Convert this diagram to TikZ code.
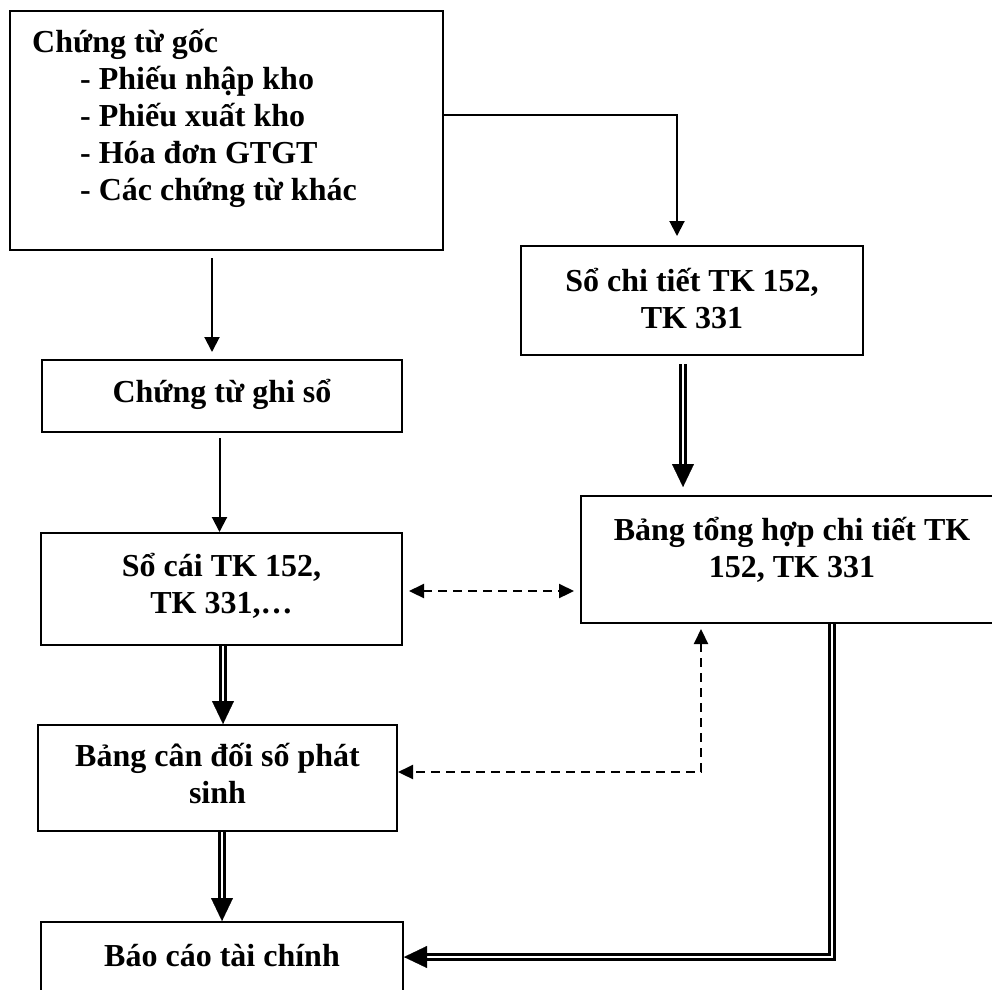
\documentclass[tikz,border=0pt]{standalone}
\usepackage{fontspec}
\setmainfont{Liberation Serif}
\usetikzlibrary{arrows.meta,calc}

\tikzset{
  box/.style={draw, rectangle, line width=2pt, inner sep=0pt},
  txt/.style={font=\bfseries\fontsize{32}{37}\selectfont, inner sep=0pt, align=center},
  arr/.style={line width=2pt, -{Triangle[length=15pt,width=15pt]}},
  dsh/.style={line width=2.2pt, dash pattern=on 9pt off 6pt,
              {Triangle[length=15pt,width=14pt]}-{Triangle[length=15pt,width=14pt]}},
  dbl/.style={double, double distance=2.8pt, line width=2.2pt, line join=miter},
  dblhead/.style={line width=0.2pt, -{Triangle[length=23pt,width=22pt]}}
}

\begin{document}
\begin{tikzpicture}[x=1pt, y=-1pt]
\useasboundingbox (0,0) rectangle (992,989);
\clip (0,0) rectangle (992,989);

% boxes
\node[box, minimum width=433pt, minimum height=239pt] (goc)   at (226.5,130.5) {};
\node[box, minimum width=342pt, minimum height=109pt] (sct)   at (692,300.5) {};
\node[box, minimum width=360pt, minimum height=72pt]  (ctgs)  at (222,396) {};
\node[box, minimum width=361pt, minimum height=112pt] (socai) at (221.5,589) {};
\node[box, minimum width=414pt, minimum height=127pt] (bth)   at (788,559.5) {};
\node[box, minimum width=359pt, minimum height=106pt] (bcd)   at (217.5,778) {};
\node[box, minimum width=362pt, minimum height=70pt]  (bctc)  at (222,957) {};

% box texts
\node[txt, align=left, anchor=north west] (goc-t) at (32,29)
  {Chứng từ gốc\\
   \hspace*{48pt}- Phiếu nhập kho\\
   \hspace*{48pt}- Phiếu xuất kho\\
   \hspace*{48pt}- Hóa đơn GTGT\\
   \hspace*{48pt}- Các chứng từ khác};
\node[txt] (sct-t)   at (692,299)   {Sổ chi tiết TK 152,\\TK 331};
\node[txt, anchor=base] (ctgs-t) at (222,402) {Chứng từ ghi sổ};
\node[txt] (socai-t) at (221.5,586) {Sổ cái TK 152,\\TK 331,…};
\node[txt] (bth-t)   at (792,550)   {Bảng tổng hợp chi tiết TK\\152, TK 331};
\node[txt] (bcd-t)   at (217.5,773) {Bảng cân đối số phát\\sinh};
\node[txt, anchor=base] (bctc-t) at (222,966) {Báo cáo tài chính};

% attachment points of the connectors
\coordinate (p1) at ([xshift=-10pt]ctgs.north);
\coordinate (p2) at ([xshift=-15pt]sct.north);
\coordinate (p3) at ([xshift=-2pt]socai.north);
\coordinate (p4) at ([xshift=-105pt]bth.north);
\coordinate (p6) at ([xshift=5.5pt]bcd.north);
\coordinate (p7) at ([xshift=-87pt]bth.south);
\coordinate (p9) at ([xshift=44pt]bth.south);

% single arrows
\draw[arr, shorten <=7pt, shorten >=7pt] (goc.south -| p1) -- (p1);
\draw[arr, shorten >=9pt] ([yshift=15.5pt]goc.east) -| (p2);
\draw[arr, shorten <=5pt] (ctgs.south -| p3) -- (p3);

% double arrows
\draw[dbl, shorten <=8pt, shorten >=29pt] (sct.south -| p4) -- (p4);
\draw[dblhead] ([yshift=9pt]p4) -- ([yshift=8pt]p4);

\draw[dbl, shorten >=21pt] (socai.south -| p6) -- (p6);
\draw[dblhead] ([yshift=1pt]p6) -- (p6);

\draw[dbl, shorten >=21pt] (bcd.south -| bctc.north) -- (bctc.north);
\draw[dblhead] ([yshift=1pt]bctc.north) -- (bctc.north);

\draw[dbl, shorten >=21pt] (p9) |- (bctc.east);
\draw[dblhead] ([xshift=1pt]bctc.east) -- (bctc.east);

% dashed cross references
\draw[dsh, shorten <=6pt, shorten >=6pt] ([yshift=-2pt]socai.east) -- ([yshift=-2pt]socai.east -| bth.west);
\draw[dsh, shorten <=5pt] (p7) |- ([yshift=6pt]bcd.east);
\end{tikzpicture}
\end{document}
